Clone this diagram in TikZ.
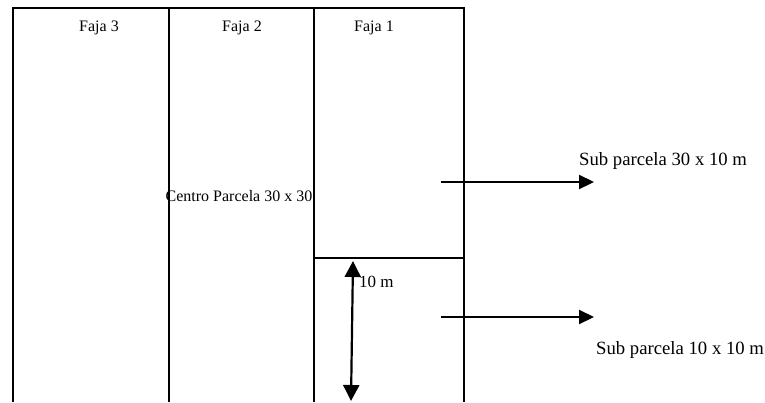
\documentclass[tikz,border=0pt]{standalone}
\usepackage{fontspec}
\setmainfont{Liberation Serif}
\usetikzlibrary{arrows.meta}
\begin{document}
\begin{tikzpicture}[x=1pt,y=-1pt,
  edge/.style={line width=2pt},
  thin edge/.style={line width=1.5pt},
  arr/.style={line width=2.2pt,-{Triangle[length=15pt,width=14pt]}},
  dbl/.style={line width=2.2pt,{Triangle[length=16pt,width=16pt]}-{Triangle[length=16pt,width=16pt]}},
  lbl/.style={inner sep=0pt},
  strip/.style={lbl,font=\fontsize{16}{18}\selectfont},
  mid/.style={lbl,font=\fontsize{16}{18}\selectfont},
  call/.style={lbl,anchor=west,font=\fontsize{18.7}{21}\selectfont}]
\useasboundingbox (0,0) rectangle (765,402);
% plot outline, open at the bottom
\draw[edge] (12.5,402) -- (12.5,7.5) -- (464,7.5) -- (464,402);
% strip dividers
\draw[edge] (169,7.5) -- (169,402);
\draw[edge] (314,7.5) -- (314,402);
% 10 x 10 subplot boundary
\draw[thin edge] (314,258) -- (464,258);
% strip labels
\node[strip] (f3) at (99,28) {Faja 3};
\node[strip] (f2) at (242,28) {Faja 2};
\node[strip] (f1) at (374,28) {Faja 1};
\node[mid] (centro) at (239,196) {Centro Parcela 30 x 30};
% subplot callouts
\coordinate (a1) at (441,182);
\coordinate (b1) at (594,182);
\coordinate (a2) at (441,317);
\coordinate (b2) at (594,317);
\draw[arr] (a1) -- (b1);
\draw[arr] (a2) -- (b2);
\node[call] (s30) at (579,161) {Sub parcela 30 x 10 m};
\node[call] (s10) at (596,350) {Sub parcela 10 x 10 m};
% 10 m dimension
\coordinate (d1) at (353,261);
\coordinate (d2) at (351,401);
\draw[dbl] (d1) -- (d2);
\node[lbl,anchor=west,font=\fontsize{17}{19}\selectfont] (dim) at (359,282) {10 m};
\end{tikzpicture}
\end{document}
